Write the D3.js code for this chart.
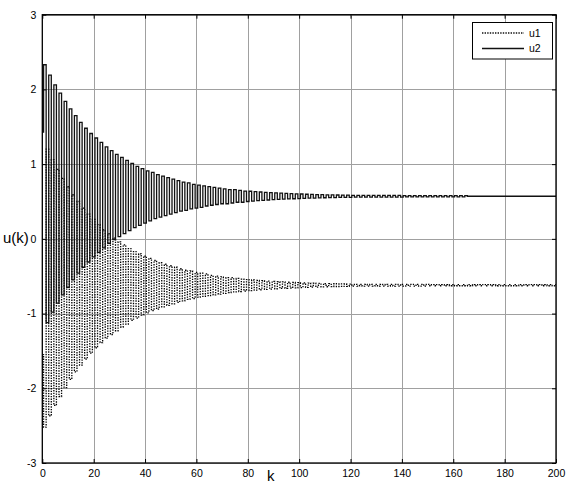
<!DOCTYPE html>
<html>
<head>
<meta charset="utf-8">
<script src="https://cdn.jsdelivr.net/npm/d3@7"></script>
<style>
  html, body { margin: 0; padding: 0; background: #fff; }
  svg { display: block; font-family: "Liberation Sans", Arial, sans-serif; }
  .tick text { font-size: 10.5px; fill: #000; }
</style>
</head>
<body>
<svg id="chart" width="568" height="485"></svg>
<script>
const xTicks = [0, 20, 40, 60, 80, 100, 120, 140, 160, 180, 200];
const yTicks = [-3, -2, -1, 0, 1, 2, 3];
const seriesNames = ["u1", "u2"];

// u(k) for k = 0..200
const u1 = [
  -1.55,
  -2.52, 1.20, -2.37, 1.06, -2.23, 0.93, -2.11, 0.81, -1.99, 0.70,
  -1.88, 0.59, -1.78, 0.50, -1.69, 0.41, -1.61, 0.33, -1.53, 0.26,
  -1.46, 0.19, -1.39, 0.12, -1.33, 0.07, -1.28, 0.01, -1.23, -0.04,
  -1.18, -0.08, -1.14, -0.13, -1.09, -0.17, -1.06, -0.20, -1.02, -0.23,
  -0.99, -0.26, -0.96, -0.29, -0.94, -0.32, -0.91, -0.34, -0.89, -0.36,
  -0.87, -0.38, -0.85, -0.40, -0.83, -0.42, -0.81, -0.43, -0.80, -0.45,
  -0.78, -0.46, -0.77, -0.47, -0.76, -0.49, -0.75, -0.50, -0.74, -0.51,
  -0.73, -0.52, -0.72, -0.52, -0.71, -0.53, -0.705, -0.54, -0.699, -0.545,
  -0.692, -0.551, -0.687, -0.556, -0.681, -0.561, -0.677, -0.566, -0.672, -0.570,
  -0.668, -0.574, -0.664, -0.577, -0.661, -0.581, -0.658, -0.584, -0.655, -0.587,
  -0.652, -0.589, -0.649, -0.592, -0.647, -0.594, -0.645, -0.596, -0.643, -0.598,
  -0.641, -0.600, -0.640, -0.601, -0.638, -0.603, -0.637, -0.604, -0.635, -0.605,
  -0.632, -0.608, -0.632, -0.608, -0.632, -0.608, -0.632, -0.608, -0.632, -0.608,
  -0.632, -0.608, -0.632, -0.608, -0.632, -0.608, -0.632, -0.608, -0.632, -0.608,
  -0.632, -0.608, -0.632, -0.608, -0.632, -0.608, -0.632, -0.608, -0.632, -0.608,
  -0.628, -0.612, -0.628, -0.612, -0.628, -0.612, -0.628, -0.612, -0.628, -0.612,
  -0.628, -0.612, -0.628, -0.612, -0.628, -0.612, -0.628, -0.612, -0.628, -0.612,
  -0.628, -0.612, -0.628, -0.612, -0.628, -0.612, -0.628, -0.612, -0.628, -0.612,
  -0.628, -0.612, -0.628, -0.612, -0.628, -0.612, -0.628, -0.612, -0.628, -0.612,
  -0.628, -0.612, -0.628, -0.612, -0.628, -0.612, -0.628, -0.612, -0.628, -0.612
];

const u2 = [
  1.43,
  2.33, -1.12, 2.19, -0.98, 2.06, -0.86, 1.95, -0.75, 1.84, -0.65,
  1.74, -0.55, 1.65, -0.46, 1.56, -0.38, 1.48, -0.31, 1.41, -0.24,
  1.35, -0.18, 1.29, -0.12, 1.23, -0.06, 1.18, -0.01, 1.13, 0.03,
  1.09, 0.07, 1.05, 0.11, 1.01, 0.15, 0.97, 0.18, 0.94, 0.21,
  0.91, 0.24, 0.89, 0.27, 0.86, 0.29, 0.84, 0.31, 0.82, 0.33,
  0.80, 0.35, 0.78, 0.37, 0.76, 0.38, 0.75, 0.40, 0.73, 0.41,
  0.72, 0.42, 0.71, 0.44, 0.70, 0.45, 0.69, 0.46, 0.68, 0.47,
  0.67, 0.47, 0.66, 0.48, 0.66, 0.49, 0.65, 0.49, 0.64, 0.50,
  0.637, 0.506, 0.632, 0.511, 0.627, 0.515, 0.622, 0.520, 0.618, 0.524,
  0.614, 0.527, 0.611, 0.531, 0.608, 0.534, 0.605, 0.537, 0.602, 0.539,
  0.600, 0.542, 0.597, 0.544, 0.595, 0.546, 0.593, 0.548, 0.591, 0.550,
  0.589, 0.551, 0.588, 0.553, 0.587, 0.554, 0.585, 0.555, 0.584, 0.556,
  0.582, 0.558, 0.582, 0.558, 0.582, 0.558, 0.582, 0.558, 0.582, 0.558,
  0.582, 0.558, 0.582, 0.558, 0.582, 0.558, 0.582, 0.558, 0.582, 0.558,
  0.579, 0.561, 0.579, 0.561, 0.579, 0.561, 0.579, 0.561, 0.579, 0.561,
  0.579, 0.561, 0.579, 0.561, 0.579, 0.561, 0.579, 0.561, 0.579, 0.561,
  0.579, 0.561, 0.579, 0.561, 0.579, 0.57, 0.57, 0.57, 0.57, 0.57,
  0.57, 0.57, 0.57, 0.57, 0.57, 0.57, 0.57, 0.57, 0.57, 0.57,
  0.57, 0.57, 0.57, 0.57, 0.57, 0.57, 0.57, 0.57, 0.57, 0.57,
  0.57, 0.57, 0.57, 0.57, 0.57, 0.57, 0.57, 0.57, 0.57, 0.57
];

const svg = d3.select("#chart");
const plot = { left: 42.3, right: 556, top: 14.7, bottom: 463 };

const x = d3.scaleLinear().domain([0, 200]).range([plot.left, plot.right]);
const y = d3.scaleLinear().domain([-3, 3]).range([plot.bottom, plot.top]);

svg.append("defs").append("clipPath").attr("id", "clip")
  .append("rect")
  .attr("x", plot.left).attr("y", plot.top)
  .attr("width", plot.right - plot.left).attr("height", plot.bottom - plot.top);

// grid
svg.append("g")
  .attr("transform", `translate(0,${plot.bottom})`)
  .call(d3.axisBottom(x).tickValues(xTicks).tickSize(-(plot.bottom - plot.top)).tickFormat(""))
  .call(g => g.select(".domain").remove())
  .call(g => g.selectAll("line").attr("stroke", "#a0a0a0").attr("shape-rendering", "crispEdges"));

svg.append("g")
  .attr("transform", `translate(${plot.left},0)`)
  .call(d3.axisLeft(y).tickValues(yTicks).tickSize(-(plot.right - plot.left)).tickFormat(""))
  .call(g => g.select(".domain").remove())
  .call(g => g.selectAll("line").attr("stroke", "#a0a0a0").attr("shape-rendering", "crispEdges"));

// series
const line = d3.line()
  .x((d, i) => x(i))
  .y(d => y(d))
  .curve(d3.curveStep);

const lines = svg.append("g").attr("clip-path", "url(#clip)");

lines.append("path")
  .datum(u1)
  .attr("fill", "none")
  .attr("stroke", "#000")
  .attr("stroke-width", 1.3)
  .attr("stroke-dasharray", "1.4,1.2")
  .attr("d", line);

lines.append("path")
  .datum(u2)
  .attr("fill", "none")
  .attr("stroke", "#111")
  .attr("stroke-width", 1.3)
  .attr("d", line);

// axes with inward ticks
const tickStyle = g => {
  g.select(".domain").remove();
  g.selectAll("line").attr("stroke", "#000");
};

svg.append("g")
  .attr("transform", `translate(0,${plot.bottom})`)
  .call(d3.axisBottom(x).tickValues(xTicks).tickSizeInner(-4).tickSizeOuter(0).tickPadding(7))
  .call(tickStyle);

svg.append("g")
  .attr("transform", `translate(0,${plot.top})`)
  .call(d3.axisTop(x).tickValues(xTicks).tickSizeInner(-4).tickSizeOuter(0).tickFormat(""))
  .call(tickStyle);

svg.append("g")
  .attr("transform", `translate(${plot.left},0)`)
  .call(d3.axisLeft(y).tickValues(yTicks).tickSizeInner(-4).tickSizeOuter(0).tickPadding(6)
    .tickFormat(d => d < 0 ? "-" + Math.abs(d) : d))
  .call(tickStyle);

svg.append("g")
  .attr("transform", `translate(${plot.right},0)`)
  .call(d3.axisRight(y).tickValues(yTicks).tickSizeInner(-4).tickSizeOuter(0).tickFormat(""))
  .call(tickStyle);

svg.append("rect")
  .attr("x", plot.left).attr("y", plot.top)
  .attr("width", plot.right - plot.left).attr("height", plot.bottom - plot.top)
  .attr("fill", "none").attr("stroke", "#000").attr("stroke-width", 1.3);

// axis labels
svg.append("text")
  .attr("x", 3).attr("y", 243)
  .attr("font-size", 15)
  .text("u(k)");

svg.append("text")
  .attr("x", 267).attr("y", 481)
  .attr("font-size", 15)
  .text("k");

// legend
const legend = svg.append("g");
legend.append("rect")
  .attr("x", 472.5).attr("y", 22.5).attr("width", 80).attr("height", 36.5)
  .attr("fill", "#fff").attr("stroke", "#000").attr("stroke-width", 1);

seriesNames.forEach((name, i) => {
  const ly = 33 + i * 15.5;
  legend.append("line")
    .attr("x1", 482).attr("x2", 524).attr("y1", ly).attr("y2", ly)
    .attr("stroke", "#111")
    .attr("stroke-width", 1.3)
    .attr("stroke-dasharray", i === 0 ? "1.4,1.2" : null);
  legend.append("text")
    .attr("x", 529).attr("y", ly + 3.8)
    .attr("font-size", 10.5)
    .text(name);
});
</script>
</body>
</html>
